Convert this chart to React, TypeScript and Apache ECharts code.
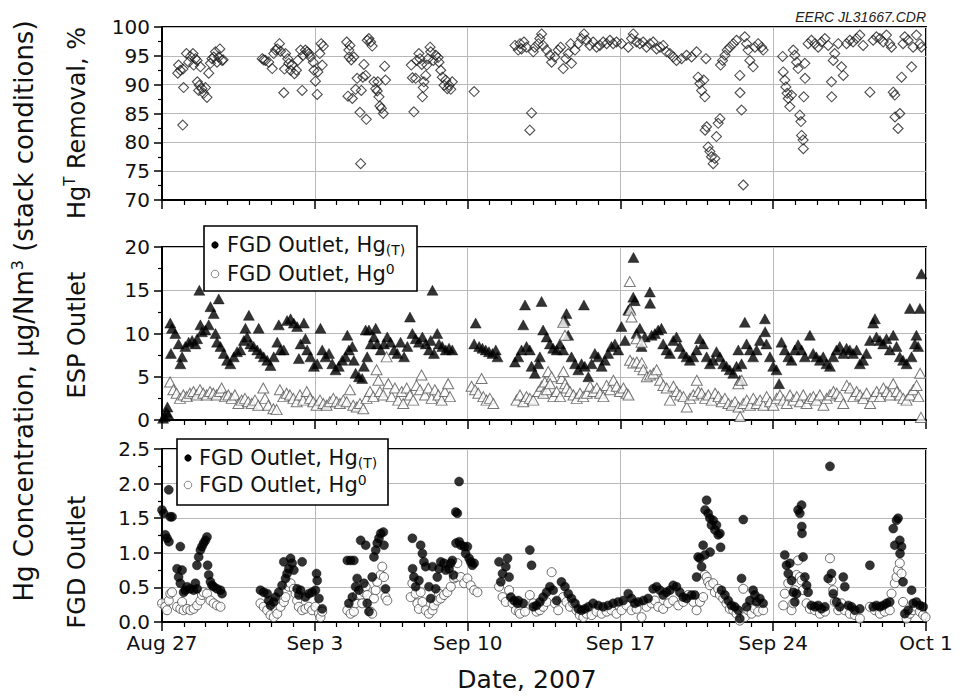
import React, { useEffect, useRef } from 'react';
import * as echarts from 'echarts';

const xTickLabels = ['Aug 27', 'Sep 3', 'Sep 10', 'Sep 17', 'Sep 24', 'Oct 1'];

// days since Aug 27 00:00, Hg(T) removal %
const removalPts: [number, number][] = [
  [0.72,92.0],[0.76,93.4],[0.84,92.5],[0.95,83.0],[0.99,89.5],[0.96,92.7],[1.12,95.4],[1.22,93.9],[1.30,94.9],[1.42,95.4],[1.45,93.4],[1.53,94.5],[1.61,94.2],[1.62,90.5],[1.71,89.9],[1.76,93.1],[1.68,89.0],[1.83,89.3],[1.91,88.5],[1.99,89.5],[2.06,87.8],[2.14,92.0],[2.22,93.7],[2.29,94.5],[2.37,94.8],[2.45,95.7],[2.52,93.9],[2.60,94.8],[2.65,96.2],[2.75,94.2],[2.80,94.3],
  [4.59,94.5],[4.66,94.3],[4.74,94.2],[4.89,93.9],[5.05,92.8],[5.12,95.4],[5.20,96.0],[5.28,96.2],[5.38,97.1],[5.43,95.8],[5.58,88.6],[5.61,92.7],[5.66,95.4],[5.76,94.5],[5.81,93.7],[5.89,92.5],[5.96,93.4],[6.07,91.9],[6.16,92.5],[6.22,94.2],[6.35,96.0],[6.42,89.0],[6.47,95.1],[6.57,96.0],[6.65,95.7],[6.73,95.4],[6.80,94.8],[6.93,93.9],[6.96,92.5],[7.03,90.6],[7.11,88.3],[7.14,92.2],[7.23,95.4],[7.29,97.1],[7.34,93.4],[7.39,96.7],
  [8.46,97.4],[8.56,96.0],[8.61,96.8],[8.57,94.8],[8.67,94.3],[8.52,88.0],[8.72,87.6],[8.79,94.8],[8.87,89.2],[8.94,91.1],[9.07,85.2],[9.10,76.3],[9.13,89.0],[9.20,91.3],[9.25,93.5],[9.33,91.6],[9.36,84.0],[9.40,97.7],[9.48,98.0],[9.56,97.4],[9.63,96.7],[9.71,90.5],[9.79,89.3],[9.86,88.9],[9.89,90.5],[9.94,87.9],[9.98,86.3],[10.05,85.9],[10.14,85.0],[10.20,93.2],[10.24,90.8],
  [11.42,93.4],[11.47,91.2],[11.54,85.3],[11.62,91.1],[11.67,94.2],[11.77,95.4],[11.82,94.5],[11.90,93.5],[11.93,87.9],[11.97,89.5],[12.00,90.5],[12.08,91.6],[12.13,93.4],[12.19,94.5],[12.28,96.5],[12.31,95.7],[12.43,94.2],[12.54,95.1],[12.65,94.7],[12.69,93.9],[12.77,92.5],[12.84,91.3],[12.92,89.9],[13.00,90.8],[13.07,89.3],[13.15,89.9],[13.23,89.2],[13.30,90.5],
  [14.30,88.8],
  [16.17,96.8],[16.32,96.0],[16.40,97.1],[16.47,96.2],[16.58,97.4],[16.70,96.5],[16.85,82.1],[16.93,85.1],[17.01,95.7],[17.08,96.5],[17.24,97.1],[17.31,98.0],[17.39,98.8],[17.46,96.8],[17.62,96.0],[17.77,95.1],[17.85,93.9],[18.00,94.8],[18.15,96.0],[18.26,96.5],[18.38,92.8],[18.50,94.5],[18.61,95.4],[18.72,97.1],[18.76,93.7],[18.92,96.0],[19.07,97.1],[19.22,98.0],[19.33,98.8],[19.45,97.7],[19.60,96.8],[19.75,97.4],[19.91,96.5],[20.06,96.8],[20.21,97.4],[20.37,97.1],[20.52,97.7],[20.67,97.1],[20.82,97.4],[21.05,97.1],
  [21.36,96.5],[21.51,98.0],[21.59,98.8],[21.74,97.4],[21.89,97.1],[22.04,97.4],[22.20,96.5],[22.35,97.1],[22.50,97.4],[22.66,96.2],[22.81,96.5],[22.96,96.8],[23.11,95.7],[23.27,95.4],[23.42,94.8],[23.57,94.2],[23.80,94.5],[24.03,95.1],[24.26,94.8],[24.49,95.7],[24.56,91.3],[24.64,90.2],[24.72,89.0],[24.82,90.8],[24.87,87.9],[24.92,94.5],[24.88,82.1],[24.95,82.7],[25.02,79.2],[25.10,78.4],[25.17,77.5],[25.25,76.3],[25.33,77.2],[25.40,81.0],[25.48,83.3],[25.56,84.1],[25.59,93.4],[25.68,94.2],[25.79,95.1],[25.89,96.0],[26.01,96.5],[26.17,97.1],[26.32,97.7],[26.47,91.6],[26.48,88.6],[26.55,85.6],[26.63,72.6],[26.70,98.3],[26.78,97.1],[26.85,96.0],[26.93,94.2],[27.08,93.1],[27.16,96.5],[27.31,97.1],[27.47,96.5],[27.54,96.0],
  [28.43,94.9],[28.46,92.2],[28.53,90.8],[28.58,89.6],[28.64,88.5],[28.69,87.6],[28.76,86.2],[28.84,88.2],[28.92,96.0],[28.99,95.1],[29.07,93.9],[29.14,92.8],[29.22,84.7],[29.27,83.6],[29.30,81.2],[29.37,80.4],[29.38,78.9],[29.45,93.7],[29.46,91.1],[29.40,87.9],[29.60,97.1],[29.75,97.7],[29.91,97.1],[30.06,96.5],[30.21,97.4],[30.37,98.0],[30.52,96.8],[30.67,90.5],[30.68,87.9],[30.75,94.2],[30.82,95.4],[30.98,97.1],[31.13,93.1],[31.21,91.6],[31.36,97.1],[31.51,97.7],[31.66,97.4],[31.82,98.0],[31.97,98.6],[32.12,96.8],[32.43,88.7],[32.58,97.7],[32.73,98.3],[32.89,98.0],[33.04,97.4],[33.19,98.6],[33.34,97.1],[33.42,96.5],[33.50,88.7],[33.57,88.2],[33.58,84.4],[33.72,82.4],[33.80,85.0],[33.88,91.3],[33.95,97.1],[34.03,98.3],[34.18,97.7],[34.34,93.1],[34.41,96.5],[34.56,98.6],[34.72,97.1],[34.79,96.5]
];

// ESP outlet Hg(T), µg/Nm3
const espTotalPts: [number, number][] = [
  [0.05,0.2],[0.12,0.4],[0.2,0.9],[0.25,1.5],[0.3,0.6],
  [0.38,11.2],[0.46,10.6],[0.41,7.7],[0.61,10.0],[0.76,8.8],[0.84,6.5],[0.92,7.3],[1.07,8.5],[1.22,9.0],[1.38,9.2],[1.53,8.8],[1.61,9.4],[1.71,15.0],[1.76,11.0],[1.83,10.2],[1.99,10.4],[2.14,11.0],[2.22,13.1],[2.37,12.3],[2.45,10.0],[2.60,14.0],[2.52,9.0],[2.68,8.5],[2.83,7.7],[2.98,6.9],[3.13,6.5],[3.29,7.3],[3.44,7.9],[3.59,8.1],[3.75,9.2],[3.82,10.6],[3.90,9.6],[3.98,12.1],[4.05,8.8],[4.20,8.5],[4.36,8.1],[4.43,10.6],[4.51,7.7],[4.66,7.3],[4.82,6.9],[4.97,6.3],[5.12,7.3],[5.28,9.0],[5.35,11.0],[5.43,8.1],[5.58,8.1],[5.73,11.5],[5.89,11.7],[6.04,11.2],[6.19,10.8],[6.27,7.1],[6.35,8.8],[6.50,11.2],[6.57,9.4],[6.65,8.1],[6.80,7.3],[6.96,6.2],[7.11,6.5],[7.26,10.6],[7.34,8.1],[7.49,7.3],[7.65,7.7],[7.80,6.5],[7.95,5.8],[8.10,6.2],[8.26,6.9],[8.41,7.3],[8.49,9.8],[8.56,8.1],[8.72,8.5],[8.79,6.9],[8.87,5.4],[9.02,5.0],[9.17,4.8],[9.25,6.2],[9.33,10.4],[9.40,7.3],[9.48,10.4],[9.56,8.8],[9.71,9.6],[9.79,10.6],[9.86,8.8],[10.02,8.1],[10.17,8.8],[10.32,9.6],[10.47,9.0],[10.63,8.1],[10.78,7.7],[10.93,9.0],[11.09,7.3],[11.24,8.5],[11.36,11.9],[11.47,10.0],[11.62,9.4],[11.77,9.0],[11.93,9.6],[12.08,8.8],[12.23,8.1],[12.39,15.0],[12.31,9.2],[12.46,7.7],[12.61,10.0],[12.69,8.8],[12.84,8.5],[13.00,8.1],[13.15,8.3],[13.30,8.1],
  [14.37,11.2],[14.30,8.8],[14.53,8.5],[14.68,8.3],[14.83,8.1],[14.98,7.9],[15.14,7.7],[15.29,8.1],[15.37,7.3],
  [16.17,6.7],[16.32,7.3],[16.47,8.1],[16.55,11.0],[16.63,13.3],[16.70,8.5],[16.85,8.1],[16.93,6.2],[17.08,5.4],[17.24,6.5],[17.31,7.3],[17.39,13.7],[17.46,10.4],[17.62,9.6],[17.77,8.8],[17.92,8.3],[18.08,8.1],[18.23,8.8],[18.38,8.1],[18.46,11.5],[18.53,12.3],[18.61,9.8],[18.76,7.3],[18.92,6.5],[19.07,5.8],[19.22,6.5],[19.33,13.3],[19.37,6.2],[19.53,5.0],[19.68,6.5],[19.83,7.7],[19.98,7.3],[20.14,6.2],[20.29,6.9],[20.44,7.7],[20.59,8.5],[20.75,8.8],[20.90,8.1],[21.05,10.8],[21.21,9.2],[21.36,12.7],[21.43,12.9],[21.59,14.2],[21.60,18.8],[21.66,13.8],[21.74,10.0],[21.89,10.6],[21.97,8.5],[22.12,9.6],[22.35,14.8],[22.36,13.5],[22.43,9.8],[22.58,10.0],[22.73,10.4],[22.88,10.6],[22.96,8.8],[23.11,8.1],[23.27,7.7],[23.42,9.2],[23.57,9.6],[23.72,8.5],[23.88,7.7],[24.03,7.3],[24.18,6.9],[24.34,7.3],[24.49,8.1],[24.64,9.4],[24.79,8.8],[24.95,7.3],[25.10,6.5],[25.25,6.9],[25.40,7.9],[25.56,7.3],[25.71,6.5],[25.86,6.2],[26.01,5.8],[26.17,5.4],[26.32,6.2],[26.47,4.6],[26.40,8.1],[26.55,6.5],[26.70,11.3],[26.78,8.8],[26.93,8.1],[27.08,7.3],[27.24,8.1],[27.39,9.2],[27.62,11.7],[27.63,10.2],[27.69,8.8],[27.85,7.3],[28.00,6.2],[28.15,5.8],[28.27,4.2],[28.38,9.0],[28.53,8.1],[28.69,7.3],[28.84,6.9],[28.99,8.1],[29.14,8.7],[29.30,8.1],[29.45,7.3],[29.68,9.8],[29.83,7.7],[29.98,7.3],[30.14,6.9],[30.29,7.3],[30.44,6.5],[30.60,6.2],[30.75,7.3],[30.90,8.1],[31.05,8.5],[31.21,7.7],[31.36,8.3],[31.51,8.1],[31.66,7.7],[31.82,8.1],[31.97,6.5],[32.12,6.9],[32.27,7.7],[32.43,9.2],[32.58,11.2],[32.66,11.7],[32.73,9.6],[32.89,9.2],[33.04,8.8],[33.19,9.4],[33.34,8.1],[33.50,9.8],[33.65,8.5],[33.80,7.3],[33.95,6.9],[34.11,6.5],[34.26,12.9],[34.34,7.3],[34.49,8.8],[34.56,9.8],[34.64,8.5],[34.72,12.9],[34.79,16.9]
];

// ESP outlet Hg0, µg/Nm3
const espElemPts: [number, number][] = [
  [0.37,4.4],[0.52,3.5],[0.67,3.1],[0.82,2.5],[0.98,2.9],[1.13,2.7],[1.28,3.1],[1.44,3.3],[1.59,2.9],[1.74,3.5],[1.89,3.1],[2.05,2.9],[2.20,3.3],[2.35,3.1],[2.50,2.9],[2.66,3.3],[2.73,3.7],[2.89,2.7],[3.04,2.9],[3.19,2.5],[3.34,2.9],[3.50,1.9],[3.65,2.3],[3.80,2.5],[3.95,2.1],[4.11,1.9],[4.26,2.3],[4.41,1.7],[4.64,3.7],[4.72,2.5],[4.87,1.7],[5.10,1.3],[5.25,1.2],[5.40,3.5],[5.56,2.7],[5.71,3.1],[5.86,2.9],[6.02,2.5],[6.17,2.1],[6.32,2.9],[6.47,2.3],[6.63,3.3],[6.78,2.5],[6.93,2.1],[7.08,1.7],[7.24,2.3],[7.39,1.9],[7.54,1.7],[7.69,2.1],[7.85,2.5],[8.00,2.1],[8.15,1.9],[8.31,2.3],[8.46,2.1],[8.61,3.5],[8.76,1.7],[8.92,1.5],[9.07,1.9],[9.22,1.3],[9.37,2.5],[9.53,3.3],[9.68,2.7],[9.83,5.8],[9.91,4.6],[9.98,3.3],[10.14,2.9],[10.29,7.3],[10.37,4.2],[10.52,2.7],[10.67,3.7],[10.82,2.3],[10.98,3.3],[11.05,1.9],[11.21,3.7],[11.36,2.9],[11.51,2.3],[11.66,4.0],[11.82,3.5],[11.89,5.2],[12.05,2.9],[12.20,3.7],[12.35,2.5],[12.50,3.5],[12.66,2.9],[12.81,2.3],[12.96,3.3],[13.11,4.2],[13.19,2.7],
  [14.18,3.9],[14.34,3.5],[14.49,3.1],[14.64,4.8],[14.72,2.7],[14.87,2.3],[15.02,2.5],[15.18,1.9],
  [16.24,2.3],[16.40,2.9],[16.55,2.1],[16.70,2.7],[16.85,2.5],[17.01,2.3],[17.24,3.3],[17.39,3.9],[17.54,4.4],[17.69,5.6],[17.85,5.0],
  [17.47,3.1],[17.63,3.5],[17.78,4.2],[17.93,2.7],[18.08,3.3],[18.24,2.7],[18.31,4.8],[18.39,5.6],[18.38,11.3],[18.46,9.8],[18.47,4.2],[18.54,3.7],[18.69,3.3],[18.85,2.9],[19.00,2.5],[19.15,3.1],[19.30,2.7],[19.46,3.1],[19.61,3.9],[19.76,3.3],[19.92,3.7],[20.07,3.1],[20.22,2.7],[20.37,4.0],[20.53,3.5],[20.68,4.6],[20.83,3.9],[20.98,3.3],[21.14,3.7],[21.29,3.1],[21.37,2.9],[21.43,16.0],[21.45,12.7],[21.51,11.9],[21.74,9.4],[21.97,9.0],[21.44,6.9],[21.59,6.6],[21.75,6.7],[21.90,6.2],[21.98,6.6],[22.05,5.8],[22.21,5.0],[22.36,5.2],[22.51,5.4],[22.66,5.8],[22.82,4.6],[22.97,4.0],[23.12,3.7],[23.27,2.3],[23.43,3.9],[23.58,3.3],[23.73,2.9],[23.89,2.7],[24.04,1.5],[24.19,2.5],[24.34,2.9],[24.50,4.6],[24.57,3.3],[24.72,3.1],[24.88,2.5],[25.03,2.9],[25.18,2.3],[25.34,3.1],[25.49,2.7],[25.64,2.1],[25.79,2.5],[25.95,1.9],[26.10,1.7],[26.25,2.1],[26.40,4.2],[26.41,1.5],[26.48,0.4],[26.56,4.6],[26.63,1.9],[26.79,2.3],[26.94,1.7],[27.09,2.5],[27.24,1.9],[27.40,2.3],[27.55,1.7],[27.70,2.7],[27.85,2.1],[28.01,1.7],[28.16,2.5],[28.31,2.9],[28.47,2.3],[28.62,1.9],[28.77,2.9],[28.92,2.3],[29.08,2.7],[29.23,2.1],[29.38,2.9],[29.53,1.9],[29.69,2.5],[29.84,2.7],[29.99,2.3],[30.14,2.9],[30.30,1.7],[30.45,2.5],[30.60,2.9],[30.76,3.3],[30.91,3.1],[31.06,2.7],[31.21,1.9],[31.37,4.0],[31.52,3.7],[31.67,2.7],[31.82,3.3],[31.98,2.9],[32.13,2.5],[32.28,3.1],[32.44,1.9],[32.59,2.7],[32.74,3.3],[32.89,2.7],[33.05,3.7],[33.20,3.3],[33.35,2.9],[33.50,4.2],[33.66,3.3],[33.81,2.9],[33.96,2.5],[34.11,2.3],[34.27,2.9],[34.42,3.5],[34.57,4.0],[34.65,2.7],[34.73,5.4],[34.77,0.3]
];

// FGD outlet Hg(T), µg/Nm3
const fgdTotalPts: [number, number][] = [
  [0.00,1.62],[0.08,1.57],[0.15,1.26],[0.23,1.21],[0.31,1.91],[0.32,1.16],[0.38,1.52],[0.46,1.52],[0.84,1.09],[0.69,0.77],[0.76,0.65],[0.84,0.56],[0.92,0.75],[0.99,0.43],[1.07,0.46],[1.15,0.51],[1.30,0.48],[1.45,0.46],[1.53,0.56],[1.61,0.48],[1.60,0.82],[1.68,0.94],[1.76,1.04],[1.83,1.09],[1.91,1.14],[1.99,1.18],[2.06,1.23],[2.09,0.82],[2.14,0.68],[2.22,0.58],[2.29,0.53],[2.37,0.51],[2.52,0.48],[2.68,0.46],[2.75,0.41],
  [4.51,0.46],[4.66,0.43],[4.82,0.41],[4.89,0.31],[4.97,0.24],[5.12,0.29],[5.20,0.36],[5.35,0.43],[5.50,0.53],[5.58,0.87],[5.66,0.63],[5.73,0.70],[5.81,0.77],[5.89,0.92],[5.96,0.85],[6.04,0.75],[6.19,0.48],[6.27,0.39],[6.35,0.46],[6.42,0.87],[6.57,0.36],[6.73,0.41],[6.88,0.43],[7.03,0.46],[7.08,0.70],[7.11,0.60],[7.19,0.34],[7.34,0.19],
  [8.49,0.89],[8.64,0.89],[8.79,0.89],[8.56,0.27],[8.72,0.36],[8.87,0.51],[8.94,0.63],[9.02,0.46],[9.10,1.18],[9.25,0.56],[9.33,1.11],[9.40,0.27],[9.48,0.15],[9.63,0.65],[9.71,0.94],[9.79,1.04],[9.86,1.14],[9.94,1.21],[10.02,1.28],[10.14,1.30],[10.17,1.11],[10.24,0.48],
  [11.47,1.21],[11.48,0.77],[11.54,0.65],[11.62,0.51],[11.77,0.60],[11.85,1.11],[11.93,0.99],[12.00,0.87],[12.08,0.80],[12.23,0.51],[12.31,0.34],[12.39,0.80],[12.54,0.48],[12.61,0.65],[12.69,0.77],[12.77,0.87],[12.92,0.85],[13.00,0.75],[13.15,0.77],[13.23,0.85],[13.30,0.89],[13.35,0.68],[13.46,1.59],[13.53,1.57],[13.61,2.03],[13.47,1.14],[13.62,1.16],[13.69,1.11],[13.84,1.09],[13.91,0.99],[13.99,1.09],[14.07,0.92],[14.14,0.87],[14.22,0.82],[14.30,0.85],
  [15.44,0.87],[15.52,0.58],[15.60,0.70],[15.75,0.80],[15.83,0.92],[15.90,0.65],[15.98,0.36],[16.13,0.31],[16.28,0.27],
  [16.32,0.31],[16.55,0.27],[16.85,1.04],[16.93,0.82],[17.01,0.22],[17.16,0.24],[17.31,0.29],[17.46,0.36],[17.62,0.43],[17.77,0.51],[17.92,0.46],[18.08,0.31],[18.30,0.58],[18.46,0.51],[18.61,0.41],[18.76,0.34],[18.92,0.27],[19.07,0.19],[19.22,0.17],[19.37,0.19],[19.53,0.22],[19.75,0.27],[19.98,0.24],[20.21,0.22],[20.44,0.24],[20.67,0.27],[20.90,0.29],[21.13,0.31],[21.36,0.41],[21.51,0.34],[21.66,0.27],[21.82,0.29],[22.05,0.31],[22.27,0.34],[22.50,0.48],[22.66,0.51],[22.81,0.46],[22.96,0.39],[23.11,0.43],[23.27,0.46],[23.42,0.53],[23.57,0.51],[23.72,0.43],[23.88,0.36],[24.03,0.34],[24.26,0.39],[24.41,0.39],[24.49,0.65],[24.56,0.94],[24.64,0.92],[24.72,0.80],[24.79,1.11],[24.87,0.97],[24.95,1.76],[24.88,1.62],[25.02,1.57],[25.10,1.50],[25.11,1.01],[25.17,1.40],[25.25,1.47],[25.33,1.33],[25.40,1.40],[25.48,1.26],[25.56,1.28],[25.59,1.08],[25.63,0.46],[25.79,0.39],[25.94,0.31],[26.09,0.24],[26.24,0.22],[26.40,0.17],[26.47,0.05],[26.55,0.63],[26.63,1.48],[26.78,0.22],[26.93,0.31],[27.08,0.46],[27.16,0.39],[27.24,0.29],[27.39,0.34],[27.54,0.27],
  [28.53,0.97],[28.61,0.82],[28.69,0.70],[28.76,0.85],[28.84,0.60],[28.92,0.43],[28.99,0.29],[29.07,0.41],[29.14,1.62],[29.22,1.57],[29.30,1.69],[29.31,1.38],[29.32,1.28],[29.37,0.94],[29.45,0.65],[29.53,0.53],[29.60,0.43],[29.75,0.24],[29.91,0.22],[30.06,0.24],[30.21,0.19],[30.37,0.22],[30.52,0.63],[30.60,2.25],[30.67,0.70],[30.75,0.41],[30.90,0.29],[31.05,0.22],[31.21,0.65],[31.28,0.51],[31.44,0.24],[31.59,0.22],[31.74,0.17],[31.97,0.19],[32.43,0.82],[32.58,0.22],[32.73,0.24],[32.89,0.22],[33.04,0.24],[33.19,0.27],[33.34,0.29],[33.50,1.35],[33.57,1.11],[33.65,1.47],[33.72,1.50],[33.80,1.18],[33.88,1.09],[33.81,0.99],[33.95,0.58],[34.03,0.12],[34.18,0.17],[34.34,0.46],[34.41,0.27],[34.56,0.29],[34.72,0.24],[34.87,0.22]
];

// FGD outlet Hg0, µg/Nm3
const fgdElemPts: [number, number][] = [
  [0.00,0.27],[0.15,0.22],[0.23,0.17],[0.31,0.31],[0.38,0.41],[0.46,0.43],[0.69,0.22],[0.84,0.19],[0.92,0.29],[0.99,0.17],[1.15,0.19],[1.30,0.17],[1.45,0.19],[1.61,0.24],[1.76,0.31],[1.83,0.39],[1.91,0.43],[2.06,0.41],[2.22,0.31],[2.37,0.27],[2.52,0.24],[2.68,0.22],
  [4.51,0.27],[4.66,0.22],[4.82,0.17],[4.97,0.10],[5.12,0.07],[5.28,0.12],[5.43,0.22],[5.58,0.29],[5.66,0.36],[5.81,0.51],[5.89,0.56],[6.04,0.48],[6.12,0.41],[6.19,0.31],[6.27,0.22],[6.42,0.17],[6.57,0.19],[6.73,0.22],[6.88,0.17],[7.03,0.22],[7.19,0.12],[7.26,0.07],[7.34,0.15],
  [8.49,0.17],[8.64,0.12],[8.79,0.15],[8.87,0.27],[8.94,0.39],[9.10,0.39],[9.17,0.27],[9.25,0.43],[9.33,0.51],[9.40,0.39],[9.56,0.15],[9.63,0.12],[9.71,0.34],[9.79,0.46],[9.86,0.58],[10.02,0.68],[10.09,0.80],[10.17,0.65],[10.24,0.36],[10.32,0.31],
  [11.39,0.36],[11.47,0.56],[11.62,0.41],[11.70,0.27],[11.77,0.19],[11.85,0.43],[11.93,0.29],[12.08,0.17],[12.23,0.12],[12.39,0.17],[12.46,0.24],[12.61,0.31],[12.69,0.41],[12.77,0.34],[12.92,0.39],[13.07,0.43],[13.23,0.51],[13.38,0.63],[13.46,0.65],[13.53,0.85],[13.69,0.65],[13.84,0.56],[13.99,0.63],[14.14,0.53],[14.30,0.46],[14.45,0.43],
  [15.44,0.51],[15.60,0.36],[15.75,0.29],[15.90,0.46],[16.06,0.27],[16.21,0.17],[16.36,0.15],
  [16.40,0.12],[16.63,0.15],[16.85,0.39],[17.01,0.27],[17.16,0.15],[17.31,0.17],[17.46,0.22],[17.62,0.29],[17.85,0.72],[18.00,0.27],[18.15,0.17],[18.38,0.36],[18.53,0.29],[18.69,0.22],[18.84,0.27],[18.99,0.17],[19.14,0.10],[19.30,0.07],[19.45,0.12],[19.68,0.10],[19.91,0.15],[20.14,0.12],[20.37,0.15],[20.59,0.17],[20.82,0.12],[21.05,0.17],[21.28,0.24],[21.51,0.17],[21.74,0.19],[21.97,0.07],[22.20,0.22],[22.43,0.27],[22.58,0.31],[22.73,0.22],[22.96,0.19],[23.19,0.27],[23.42,0.31],[23.65,0.24],[23.88,0.29],[24.11,0.39],[24.34,0.29],[24.49,0.17],[24.64,0.29],[24.79,0.36],[24.87,0.68],[24.95,0.65],[25.02,0.58],[25.10,0.53],[25.25,0.56],[25.33,0.43],[25.48,0.48],[25.56,0.39],[25.71,0.34],[25.86,0.27],[26.01,0.19],[26.17,0.17],[26.32,0.12],[26.47,0.02],[26.63,0.48],[26.70,0.07],[26.85,0.17],[27.01,0.12],[27.16,0.19],[27.31,0.15],[27.54,0.17],
  [28.46,0.24],[28.53,0.41],[28.69,0.56],[28.84,0.17],[28.92,0.27],[28.99,0.46],[29.07,0.68],[29.14,0.89],[29.22,0.65],[29.30,0.60],[29.37,0.46],[29.53,0.27],[29.68,0.19],[29.91,0.17],[30.14,0.12],[30.37,0.15],[30.60,0.92],[30.67,0.60],[30.75,0.46],[30.82,0.29],[30.98,0.17],[31.13,0.27],[31.28,0.17],[31.51,0.12],[31.74,0.10],[31.97,0.05],[32.43,0.22],[32.66,0.17],[32.89,0.12],[33.11,0.15],[33.34,0.17],[33.42,0.41],[33.57,0.56],[33.65,0.65],[33.72,0.75],[33.80,0.85],[33.88,0.70],[33.95,0.29],[34.11,0.05],[34.26,0.12],[34.41,0.17],[34.56,0.22],[34.72,0.15],[34.87,0.10],[34.98,0.07]
];

const FONT = 'DejaVu Sans';
const GRID_LEFT = 162;
const GRID_W = 764;
const GRID_H = 173;
const GRID_TOPS = [27, 247, 449];

function xAxis(gridIndex: number, showLabels: boolean) {
  return {
    type: 'value', gridIndex, min: 0, max: 35, interval: 7,
    axisLine: { show: true, onZero: false, lineStyle: { color: '#000', width: 2 } },
    axisTick: { show: true, length: 9, lineStyle: { color: '#000', width: 1.5 } },
    minorTick: { show: true, splitNumber: 7, length: 5, lineStyle: { color: '#000', width: 1.2 } },
    splitLine: { show: true, lineStyle: { color: '#b8b8b8', width: 1 } },
    axisLabel: {
      show: showLabels, margin: 11, fontFamily: FONT, fontSize: 20, color: '#111',
      showMinLabel: true, showMaxLabel: true,
      formatter: (v: number) => xTickLabels[Math.round(v / 7)] ?? '',
    },
  };
}

function yAxis(gridIndex: number, min: number, max: number, interval: number, digits: number) {
  return {
    type: 'value', gridIndex, min, max, interval,
    axisLine: { show: true, onZero: false, lineStyle: { color: '#000', width: 2 } },
    axisTick: { show: true, length: 8, lineStyle: { color: '#000', width: 1.5 } },
    minorTick: { show: true, splitNumber: 2, length: 4, lineStyle: { color: '#000', width: 1.2 } },
    splitLine: { show: true, lineStyle: { color: '#b8b8b8', width: 1 } },
    axisLabel: {
      margin: 12, fontFamily: FONT, fontSize: 20, color: '#111',
      showMinLabel: true, showMaxLabel: true,
      formatter: (v: number) => v.toFixed(digits),
    },
  };
}

function legendBox(x: number, y: number, w: number, h: number, mx: number, tx: number, y1: number, y2: number) {
  const main = { fontSize: 21, fontFamily: FONT, fill: '#111', lineHeight: 24 };
  const small = { fontSize: 14, fontFamily: FONT, fill: '#111', lineHeight: 13 };
  return [
    { type: 'rect', z: 100, shape: { x, y, width: w, height: h }, style: { fill: '#fff', stroke: '#000', lineWidth: 1.6 } },
    { type: 'circle', z: 101, shape: { cx: mx, cy: y1, r: 3.6 }, style: { fill: '#000' } },
    { type: 'circle', z: 101, shape: { cx: mx, cy: y2, r: 3.8 }, style: { fill: '#fff', stroke: '#888', lineWidth: 1 } },
    {
      type: 'text', z: 101, x: tx, y: y1,
      style: {
        text: '{a|FGD Outlet, Hg}{s|(T)}', align: 'left', verticalAlign: 'middle',
        rich: { a: main, s: { ...small, verticalAlign: 'bottom' } },
      },
    },
    {
      type: 'text', z: 101, x: tx, y: y2,
      style: {
        text: '{a|FGD Outlet, Hg}{s|0}', align: 'left', verticalAlign: 'middle',
        rich: { a: main, s: { ...small, verticalAlign: 'top' } },
      },
    },
  ];
}

export default function App() {
  const ref = useRef<HTMLDivElement>(null);

  useEffect(() => {
    document.body.style.margin = '0';
    const chart = echarts.init(ref.current!, null, { renderer: 'svg' });

    const sideMain = { fontSize: 24, fontFamily: FONT, fill: '#111', lineHeight: 30 };
    const sideSup = { fontSize: 15, fontFamily: FONT, fill: '#111', lineHeight: 15, verticalAlign: 'top' };

    const option: any = {
      animation: false,
      backgroundColor: '#fff',
      grid: GRID_TOPS.map((top) => ({
        left: GRID_LEFT, top, width: GRID_W, height: GRID_H,
        show: true, borderColor: '#000', borderWidth: 2, backgroundColor: 'transparent',
      })),
      xAxis: [xAxis(0, false), xAxis(1, false), xAxis(2, true)],
      yAxis: [yAxis(0, 70, 100, 5, 0), yAxis(1, 0, 20, 5, 0), yAxis(2, 0, 2.5, 0.5, 1)],
      series: [
        {
          type: 'scatter', xAxisIndex: 0, yAxisIndex: 0, data: removalPts,
          symbol: 'diamond', symbolSize: 10,
          itemStyle: { color: 'rgba(255,255,255,0)', borderColor: '#222', borderWidth: 1.1 },
        },
        {
          type: 'scatter', xAxisIndex: 1, yAxisIndex: 1, data: espTotalPts,
          symbol: 'triangle', symbolSize: [11, 10],
          itemStyle: { color: '#000', borderColor: '#000', borderWidth: 0.5 },
        },
        {
          type: 'scatter', xAxisIndex: 1, yAxisIndex: 1, data: espElemPts,
          symbol: 'triangle', symbolSize: [11, 10],
          itemStyle: { color: '#fff', borderColor: '#555', borderWidth: 1 },
        },
        {
          type: 'scatter', xAxisIndex: 2, yAxisIndex: 2, data: fgdElemPts,
          symbol: 'circle', symbolSize: 9,
          itemStyle: { color: '#fff', borderColor: '#444', borderWidth: 1 },
        },
        {
          type: 'scatter', xAxisIndex: 2, yAxisIndex: 2, data: fgdTotalPts,
          symbol: 'circle', symbolSize: 9,
          itemStyle: { color: '#000', borderColor: '#000', borderWidth: 0.5 },
        },
      ],
      graphic: [
        {
          type: 'text', x: 926, y: 17,
          style: { text: 'EERC JL31667.CDR', fontStyle: 'italic', fontSize: 14, fontFamily: 'Liberation Sans', fill: '#222', align: 'right', verticalAlign: 'middle' },
        },
        {
          type: 'text', x: 24, y: 311, rotation: Math.PI / 2,
          style: {
            text: '{a|Hg Concentration, µg/Nm}{s|3}{a| (stack conditions)}',
            align: 'center', verticalAlign: 'middle',
            rich: { a: { fontSize: 26, fontFamily: FONT, fill: '#111', lineHeight: 30 }, s: { ...sideSup, fontSize: 16 } },
          },
        },
        {
          type: 'text', x: 77, y: 123, rotation: Math.PI / 2,
          style: {
            text: '{a|Hg}{s|T}{a| Removal, %}', align: 'center', verticalAlign: 'middle',
            rich: { a: sideMain, s: sideSup },
          },
        },
        {
          type: 'text', x: 77, y: 335, rotation: Math.PI / 2,
          style: { text: 'ESP Outlet', fontSize: 24, fontFamily: FONT, fill: '#111', align: 'center', verticalAlign: 'middle' },
        },
        {
          type: 'text', x: 77, y: 562, rotation: Math.PI / 2,
          style: { text: 'FGD Outlet', fontSize: 24, fontFamily: FONT, fill: '#111', align: 'center', verticalAlign: 'middle' },
        },
        {
          type: 'text', x: 527, y: 679,
          style: { text: 'Date, 2007', fontSize: 25, fontFamily: FONT, fill: '#111', align: 'center', verticalAlign: 'middle' },
        },
        ...legendBox(204, 226, 213, 65, 215, 227, 245, 274),
        ...legendBox(177, 439, 211, 66, 188, 199, 458, 485),
      ],
    };

    chart.setOption(option);
    return () => chart.dispose();
  }, []);

  return <div ref={ref} style={{ width: 960, height: 698, background: '#fff' }} />;
}
